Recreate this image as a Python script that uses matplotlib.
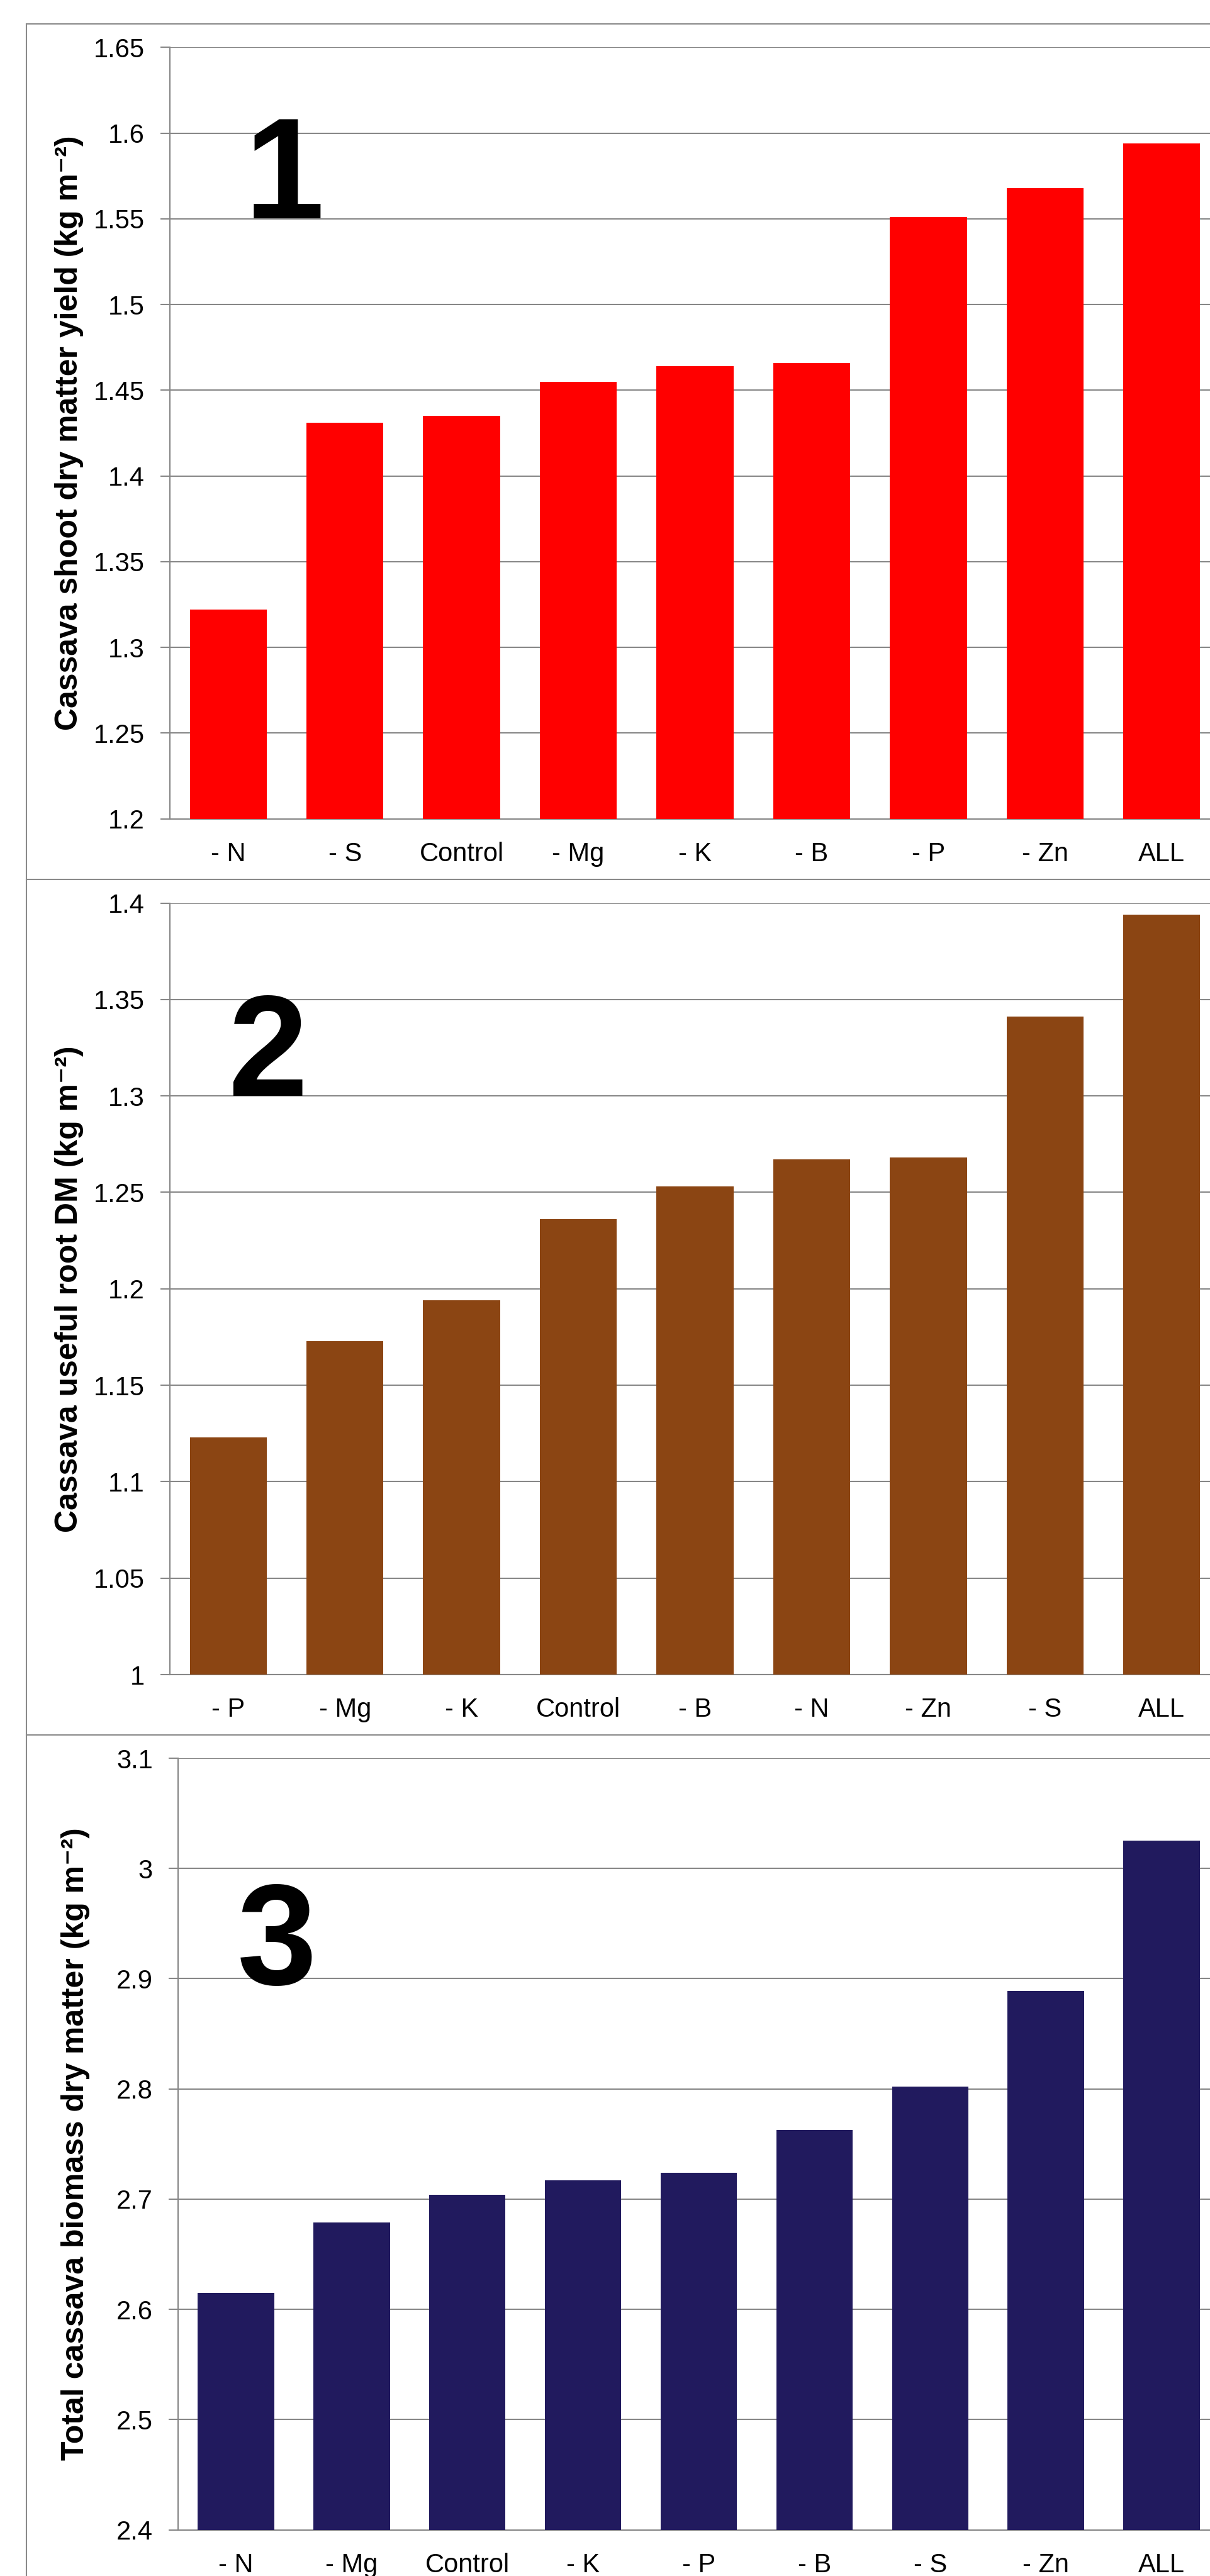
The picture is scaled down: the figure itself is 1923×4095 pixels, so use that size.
import numpy as np
import matplotlib
matplotlib.use("Agg")
import matplotlib.pyplot as plt
from matplotlib.lines import Line2D

plt.rcParams['font.family'] = ['Liberation Sans', 'DejaVu Sans']

# panel 1: shoot dry matter
labels1 = ['- N', '- S', 'Control', '- Mg', '- K', '- B', '- P', '- Zn', 'ALL']
shoot = [1.322, 1.431, 1.435, 1.455, 1.464, 1.466, 1.551, 1.568, 1.594]
# panel 2: useful root DM
labels2 = ['- P', '- Mg', '- K', 'Control', '- B', '- N', '- Zn', '- S', 'ALL']
root = [1.123, 1.173, 1.194, 1.236, 1.253, 1.267, 1.268, 1.341, 1.394]
# panel 3: total biomass
labels3 = ['- N', '- Mg', 'Control', '- K', '- P', '- B', '- S', '- Zn', 'ALL']
total = [2.615, 2.679, 2.704, 2.717, 2.724, 2.763, 2.802, 2.889, 3.025]

W, H = 1924, 4095
fig = plt.figure(figsize=(W / 100, H / 100), dpi=100)

panels = [
    (labels1, shoot, '#FF0000', (1.2, 1.65, 0.05), 'Cassava shoot dry matter yield (kg m⁻²)',
     '1', (270, 1939, 75.3, 1301.7), 110, (452, 347)),
    (labels2, root, '#8B4513', (1.0, 1.4, 0.05), 'Cassava useful root DM (kg m⁻²)',
     '2', (270, 1939, 1435.5, 2662), 110, (425, 1742)),
    (labels3, total, '#211A5E', (2.4, 3.1, 0.1), 'Total cassava biomass dry matter (kg m⁻²)',
     '3', (283, 1938, 2795, 4021.7), 120, (440, 3154)),
]

grey = '#878787'
for labels, vals, col, (lo, hi, step), ylab, num, (l, r, t, b), ylx, (nx, ny) in panels:
    ax = fig.add_axes([l / W, 1 - b / H, (r - l) / W, (b - t) / H])
    x = np.arange(len(labels))
    ax.bar(x, vals, width=0.66, color=col, zorder=3)
    ax.set_xlim(-0.5, len(labels) - 0.5)
    ax.set_ylim(lo, hi)
    ticks = np.round(np.arange(lo, hi + step / 2, step), 2)
    ax.set_yticks(ticks)
    ax.set_yticklabels([f'{v:g}' for v in ticks])
    ax.set_xticks(x)
    ax.set_xticklabels(labels)
    ax.grid(axis='y', color=grey, linewidth=1.5, zorder=0)
    ax.set_axisbelow(True)
    for s in ['top', 'right']:
        ax.spines[s].set_visible(False)
    for s in ['left', 'bottom']:
        ax.spines[s].set_color(grey)
        ax.spines[s].set_linewidth(1.5)
    ax.tick_params(axis='y', length=11, width=1.5, color=grey, pad=18, labelsize=30)
    ax.tick_params(axis='x', length=0, pad=26, labelsize=30)
    fig.text(ylx / W, 1 - (t + b) / 2 / H, ylab, rotation=90, ha='center', va='center',
             fontsize=36, fontweight='bold')
    fig.text(nx / W, 1 - ny / H, num, ha='center', va='baseline',
             fontsize=164, fontweight='bold')

# outer frame lines of the three chart boxes
bx, by = 41.5, 37.7
frame = [((bx, W), (by, by)), ((bx, bx), (by, H)),
         ((bx, W), (1397.7, 1397.7)), ((bx, W), (2757.5, 2757.5))]
for xs, ys in frame:
    fig.add_artist(Line2D([xs[0] / W, xs[1] / W], [1 - ys[0] / H, 1 - ys[1] / H],
                          transform=fig.transFigure, color='#8a8a8a', linewidth=1.5))

fig.savefig('out.png', dpi=100)
